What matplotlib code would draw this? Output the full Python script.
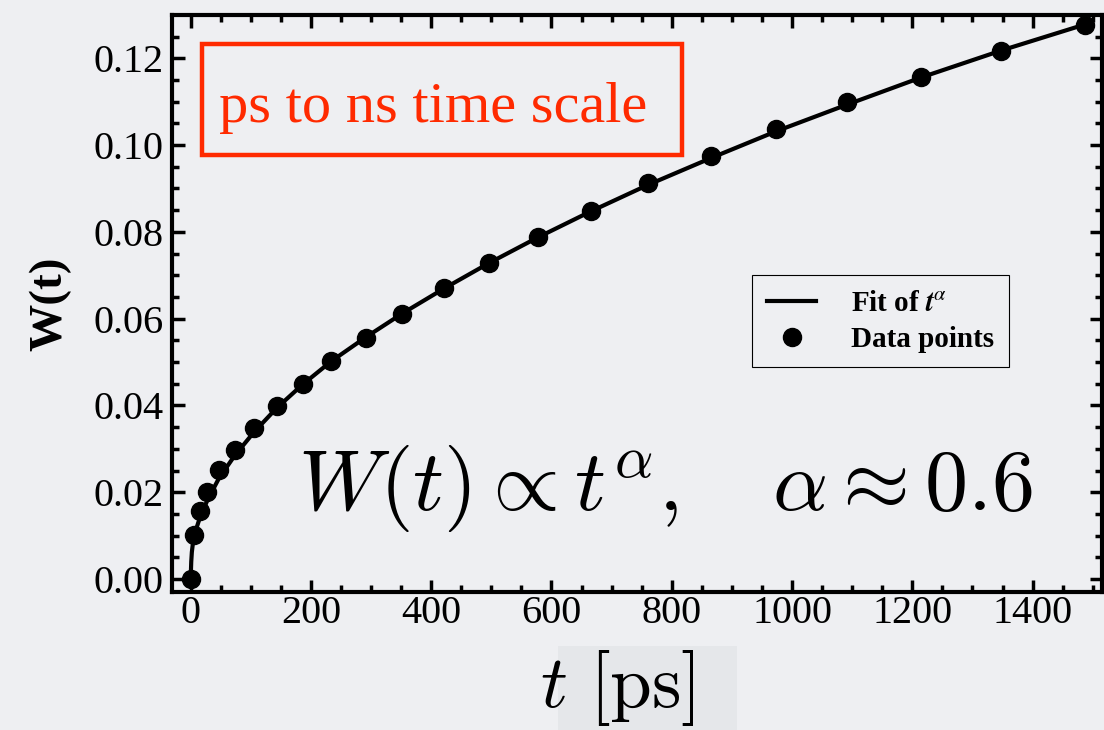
import numpy as np
import matplotlib
matplotlib.use('Agg')
import matplotlib.pyplot as plt
from matplotlib.patches import Rectangle
from matplotlib.font_manager import FontProperties
import matplotlib.ticker

plt.rcParams['font.family'] = 'Liberation Serif'
plt.rcParams['mathtext.fontset'] = 'cm'

# simulated width W(t), sampled points
t_data = [0, 5, 15, 28, 47, 73, 105, 143, 186, 234, 291, 352, 422, 496, 577,
          665, 760, 865, 974, 1091, 1215, 1348, 1487]
w_data = [0.0, 0.0101, 0.0157, 0.0200, 0.0251, 0.0297, 0.0348, 0.0399, 0.0449,
          0.0502, 0.0555, 0.0611, 0.0671, 0.0728, 0.0788, 0.0848, 0.0912, 0.0975,
          0.1037, 0.1099, 0.1157, 0.1217, 0.1276]

# power-law fit curve
t_fit = [0, 1, 2, 5, 15, 28, 47, 73, 105, 143, 186, 234, 291, 352, 422, 496,
         577, 665, 760, 865, 974, 1091, 1215, 1348, 1487]
w_fit = [0.0, 0.0040, 0.0062, 0.0097, 0.0140, 0.0182, 0.0232, 0.0284, 0.0338,
         0.0394, 0.0448, 0.0502, 0.0557, 0.0612, 0.0670, 0.0728, 0.0787, 0.0847,
         0.0908, 0.0970, 0.1032, 0.1093, 0.1156, 0.1218, 0.1278]

bg = '#eeeff2'
red = '#ff2a00'

fig = plt.figure(figsize=(11.04, 7.30), dpi=100, facecolor=bg)
ax = fig.add_axes([0.1558, 0.189, 0.8422, 0.790])
ax.set_facecolor(bg)

ax.plot(t_fit, w_fit, color='black', linewidth=3, label=r'Fit of $\mathbfit{t}^{\alpha}$', zorder=2)
ax.plot(t_data, w_data, 'o', color='black', markersize=13, label='Data points', zorder=3)

ax.set_xlim(-31, 1515)
ax.set_ylim(-0.003, 0.1299)
ax.xaxis.set_major_locator(matplotlib.ticker.MultipleLocator(200))
ax.xaxis.set_minor_locator(matplotlib.ticker.MultipleLocator(50))
ax.yaxis.set_major_locator(matplotlib.ticker.MultipleLocator(0.02))
ax.yaxis.set_minor_locator(matplotlib.ticker.MultipleLocator(0.005))
ax.yaxis.set_major_formatter(matplotlib.ticker.FormatStrFormatter('%.2f'))

ax.tick_params(which='both', direction='in', top=True, right=True, width=2.5, labelsize=29)
ax.tick_params(which='major', length=9)
ax.tick_params(which='minor', length=5)
ax.tick_params(axis='y', pad=6)
ax.tick_params(axis='x', pad=2)
for sp in ax.spines.values():
    sp.set_linewidth(3)

ax.set_ylabel('W(t)', fontsize=34, fontweight='bold', labelpad=16)
ax.set_xlabel(r'$t\ [\mathrm{ps}]$', fontsize=54)
ax.xaxis.set_label_coords(0.479, -0.097)

# shaded patch behind the unit label
fig.patches.append(Rectangle((0.5054, 0.0), 0.162, 0.115, transform=fig.transFigure,
                             facecolor='#e5e7ea', edgecolor='none', zorder=-1))

ax.add_patch(Rectangle((0.032, 0.757), 0.516, 0.194, transform=ax.transAxes,
                       fill=False, edgecolor=red, linewidth=3.2, zorder=4))
ax.text(0.281, 0.815, 'ps to ns time scale', transform=ax.transAxes, color=red,
        fontsize=42, ha='center', va='baseline')

ax.text(0.136, 0.142, r'$W(t)\propto t^{\alpha},\quad \alpha\approx 0.6$',
        transform=ax.transAxes, fontsize=62, ha='left', va='baseline')

leg_font = FontProperties(family='Liberation Serif', weight='bold', size=21, math_fontfamily='stix')
leg = ax.legend(loc='upper left', bbox_to_anchor=(0.624, 0.549), borderaxespad=0,
                prop=leg_font, frameon=True, fancybox=False, edgecolor='black',
                facecolor=bg, framealpha=1, handlelength=1.7, borderpad=0.5,
                labelspacing=0.3, handletextpad=1.2)
leg.get_frame().set_linewidth(0.8)

fig.savefig('out.png', dpi=100, facecolor=bg)
